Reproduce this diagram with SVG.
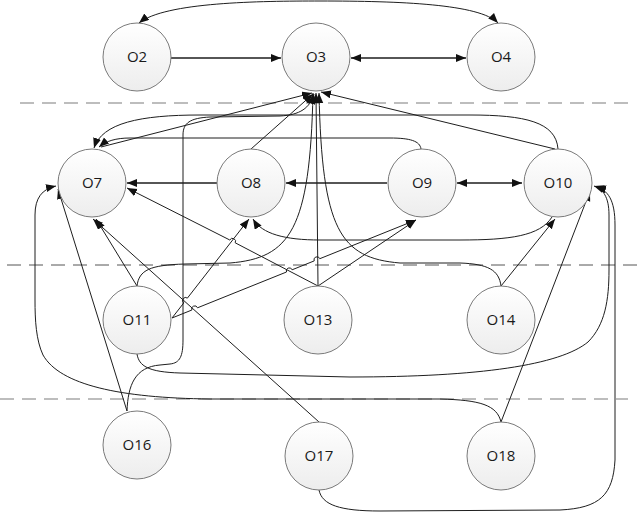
<svg xmlns="http://www.w3.org/2000/svg" width="640" height="514" viewBox="0 0 640 514">
<defs>
<linearGradient id="g" x1="0" y1="0" x2="0" y2="1">
<stop offset="0" stop-color="#ffffff"/>
<stop offset="1" stop-color="#ededed"/>
</linearGradient>
<marker id="a" markerUnits="userSpaceOnUse" markerWidth="12" markerHeight="9" refX="10" refY="4" orient="auto-start-reverse">
<path d="M0,0 L10,4 L0,8 z" fill="#111"/>
</marker>
</defs>
<style>
.n circle{fill:url(#g);stroke:#7a7a7a;stroke-width:1}
.n text{font-family:"Open Sans","Liberation Sans",sans-serif;font-size:15px;fill:#1a1a1a;text-anchor:middle}
.e path{fill:none;stroke:#1e1e1e;stroke-width:1;marker-end:url(#a)}
.e path.b{marker-start:url(#a)}
.e path.h{stroke-width:1.3}
.d{stroke-dasharray:14 8;fill:none}
</style>
<rect width="640" height="514" fill="#fff"/>
<g id="dividers">
<line class="d" x1="20" y1="103" x2="628" y2="103" stroke="#a8a8a8" stroke-width="1.5"/>
<line class="d" x1="7" y1="265" x2="640" y2="265" stroke="#555" stroke-width="1"/>
<line class="d" x1="0" y1="399" x2="628" y2="399" stroke="#a8a8a8" stroke-width="1.5"/>
</g>
<g id="connectors" class="e">
<path class="b" d="M139,23 C165,2 260,1 320,1 C400,1 480,4 498,23"/>
<path class="h" d="M171,58 L281,58"/>
<path class="b h" d="M351,58 L466,58"/>
<path d="M101,147 L312,93"/>
<path d="M251,149 L313,94"/>
<path d="M318,286 L316,93"/>
<path d="M555,149 L321,92"/>
<path d="M137,286 C139,270 150,265 185,264 L230,263 C290,258 310,230 313,93"/>
<path d="M501,286 C499,270 488,264 460,263 L400,263 C340,258 322,230 319,93"/>
<path d="M127,411 C128,385 135,367 160,365 L170,364 C180,363 183,356 183,340 L183,135 C183,123 190,118 210,117 L280,116 C300,115 310,108 314,94"/>
<path d="M558,149 C556,122 525,115 470,115 L200,115 C140,115 102,123 94,148"/>
<path d="M421,149 C420,141 410,138 390,138 L130,138 C116,138 106,141 99,147"/>
<path class="h" d="M217,183 L127,183"/>
<path class="h" d="M387,183 L286,183"/>
<path class="b h" d="M457,183 L522,183"/>
<path d="M552,217 C540,236 510,240 460,240 L320,240 C285,240 262,234 253,219"/>
<path d="M172,318 L183.8,302.9 A3,3 0 0 1 187.4,298.1 L249,219"/>
<path d="M172,318 L191.9,310 A3,3 0 0 1 197.5,307.8 L286.5,272 A3,3 0 0 1 292.1,269.8 L314.2,260.9 A3,3 0 0 1 319.8,258.7 L416,220"/>
<path d="M318,286 L416,220"/>
<path d="M137,286 L96,219"/>
<path d="M318,286 L235.2,242.8 A3,3 0 0 0 229.8,240 L127,188"/>
<path d="M127,411 L58,189"/>
<path d="M319,422 L93,219"/>
<path d="M501,422 C497,405 480,400 440,399 L210,399 C120,398 60,385 43,355 C36,340 35,320 35,300 L35,215 C35,198 42,189 56,186"/>
<path d="M137,354 C139,366 148,372 180,373 L350,377 C480,377 560,365 588,342 C605,325 609,300 609,270 L609,215 C609,197 603,189 594,186"/>
<path d="M319,490 C322,505 340,511 380,511 L560,510 C600,508 613,495 615,460 L615,225 C615,200 608,190 596,187"/>
<path d="M501,422 L590,191"/>
<path d="M501,286 L555,219"/>
</g>
<g id="O2" class="n"><circle cx="137" cy="57" r="34"/><text x="137" y="62">O2</text></g>
<g id="O3" class="n"><circle cx="316" cy="57" r="34"/><text x="316" y="62">O3</text></g>
<g id="O4" class="n"><circle cx="501" cy="57" r="34"/><text x="501" y="62">O4</text></g>
<g id="O7" class="n"><circle cx="92" cy="183" r="34"/><text x="92" y="188">O7</text></g>
<g id="O8" class="n"><circle cx="251" cy="183" r="34"/><text x="251" y="188">O8</text></g>
<g id="O9" class="n"><circle cx="422" cy="183" r="34"/><text x="422" y="188">O9</text></g>
<g id="O10" class="n"><circle cx="558" cy="183" r="34"/><text x="558" y="188">O10</text></g>
<g id="O11" class="n"><circle cx="137" cy="320" r="34"/><text x="137" y="325">O11</text></g>
<g id="O13" class="n"><circle cx="318" cy="320" r="34"/><text x="318" y="325">O13</text></g>
<g id="O14" class="n"><circle cx="501" cy="320" r="34"/><text x="501" y="325">O14</text></g>
<g id="O16" class="n"><circle cx="137" cy="445" r="34"/><text x="137" y="450">O16</text></g>
<g id="O17" class="n"><circle cx="319" cy="456" r="34"/><text x="319" y="461">O17</text></g>
<g id="O18" class="n"><circle cx="501" cy="456" r="34"/><text x="501" y="461">O18</text></g>
</svg>
